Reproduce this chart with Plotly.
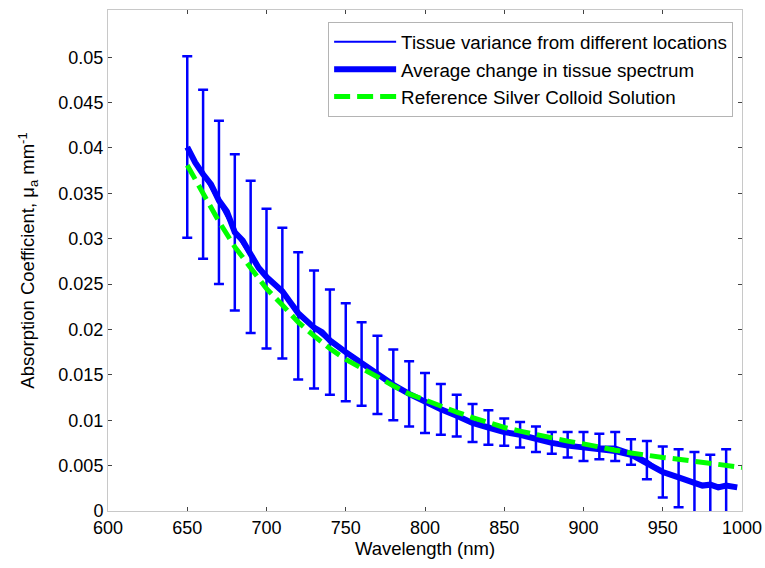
import plotly.graph_objects as go

# Error-bar series (tissue variance from different locations)
eb_wl = [650, 660, 670, 680, 690, 700, 710, 720, 730, 740, 750, 760, 770, 780, 790,
         800, 810, 820, 830, 840, 850, 860, 870, 880, 890, 900, 910, 920, 930, 940,
         950, 960, 970, 980, 990]
eb_mean = [0.0401, 0.0371, 0.0340, 0.0307, 0.0280, 0.0256, 0.0240, 0.0215, 0.0200, 0.0186,
           0.0175, 0.0162, 0.0150, 0.0139, 0.0129, 0.0119, 0.0112, 0.0105, 0.0097, 0.0092,
           0.0087, 0.0084, 0.0079, 0.0075, 0.0073, 0.0071, 0.0071, 0.0071, 0.0065, 0.0056,
           0.0043, 0.0036, 0.0031, 0.0029, 0.0028]
eb_err = [0.0100, 0.0093, 0.0090, 0.0086, 0.0084, 0.0077, 0.0072, 0.0070, 0.0065, 0.0058,
          0.0054, 0.0046, 0.0043, 0.0039, 0.0036, 0.0033, 0.0028, 0.0023, 0.0021, 0.0019,
          0.0015, 0.0014, 0.0014, 0.0012, 0.0014, 0.0016, 0.0014, 0.0016, 0.0014, 0.0021,
          0.0028, 0.0032, 0.0034, 0.0033, 0.0040]

# Average change in tissue spectrum
avg_wl = [650, 655, 660, 665, 670, 675, 680, 685, 690, 695, 700, 705, 710, 715, 720, 725,
          730, 735, 740, 750, 760, 770, 780, 790, 800, 810, 820, 830, 840, 850, 860, 870,
          880, 890, 900, 910, 920, 930, 940, 950, 960, 970, 975, 980, 985, 990, 997]
avg_val = [0.0401, 0.0384, 0.0371, 0.0360, 0.0342, 0.0330, 0.0307, 0.0298, 0.0283, 0.0268,
           0.0258, 0.0250, 0.0242, 0.0230, 0.0218, 0.0210, 0.0202, 0.0197, 0.0188, 0.0175,
           0.0163, 0.0150, 0.0139, 0.0129, 0.0120, 0.0112, 0.0105, 0.0097, 0.0092, 0.0087,
           0.0084, 0.0079, 0.0075, 0.0072, 0.0070, 0.0068, 0.0066, 0.0062, 0.0052, 0.0043,
           0.0037, 0.0031, 0.0028, 0.0029, 0.0026, 0.0028, 0.0026]

# Reference silver colloid solution
ref_wl = [650, 660, 670, 680, 690, 700, 710, 720, 730, 740, 750, 760, 770, 780, 790, 800,
          810, 820, 830, 840, 850, 860, 870, 880, 890, 900, 910, 920, 930, 940, 950, 960,
          970, 980, 990, 1000]
ref_val = [0.0381, 0.0349, 0.0319, 0.0291, 0.0267, 0.0245, 0.0227, 0.0208, 0.0193, 0.0179,
           0.0167, 0.0157, 0.0147, 0.0138, 0.0129, 0.0122, 0.0116, 0.0109, 0.0103, 0.0097,
           0.0092, 0.0088, 0.0084, 0.0080, 0.0077, 0.0074, 0.0070, 0.0067, 0.0064, 0.0061,
           0.0059, 0.0057, 0.0055, 0.0053, 0.0050, 0.0048]

y_ticks = [0, 0.005, 0.01, 0.015, 0.02, 0.025, 0.03, 0.035, 0.04, 0.045, 0.05]
y_tick_text = ["0", "0.005", "0.01", "0.015", "0.02", "0.025", "0.03", "0.035", "0.04", "0.045", "0.05"]
x_ticks = [600, 650, 700, 750, 800, 850, 900, 950, 1000]

BLUE = "#0000FF"
GREEN = "#00FF00"
FONT = "Liberation Sans, Arial, sans-serif"

fig = go.Figure()
fig.add_trace(go.Scatter(
    x=eb_wl, y=eb_mean, mode="lines",
    name="Tissue variance from different locations",
    line=dict(color=BLUE, width=2),
    error_y=dict(type="data", array=eb_err, visible=True, color=BLUE, thickness=2.5, width=5),
    legendgroup="a",
))
fig.add_trace(go.Scatter(
    x=avg_wl, y=avg_val, mode="lines",
    name="Average change in tissue spectrum",
    line=dict(color=BLUE, width=6),
    legendgroup="b",
))
fig.add_trace(go.Scatter(
    x=ref_wl, y=ref_val, mode="lines",
    name="Reference Silver Colloid Solution",
    line=dict(color=GREEN, width=5, dash="16px,7px"),
    legendgroup="c",
))

axis_common = dict(
    showline=True, linecolor="#c8c8c8", linewidth=1, mirror="ticks",
    ticks="inside", ticklen=4, tickcolor="#444444", tickwidth=1,
    showgrid=False, zeroline=False, automargin=False,
    tickfont=dict(family=FONT, size=18, color="#000000"),
)

fig.update_layout(
    width=765, height=568,
    margin=dict(l=108, r=23, t=10, b=57),
    paper_bgcolor="white", plot_bgcolor="white",
    font=dict(family=FONT, size=18, color="#000000"),
    xaxis=dict(range=[600, 1000], tickvals=x_ticks,
               title=dict(text="Wavelength (nm)", font=dict(family=FONT, size=18.5), standoff=2),
               **axis_common),
    yaxis=dict(range=[0, 0.0552], tickvals=y_ticks, ticktext=y_tick_text,
               title=dict(text="Absorption Coefficient, μ<sub>a</sub> mm<sup>-1</sup>",
                          font=dict(family=FONT, size=18.5), standoff=18),
               **axis_common),
    legend=dict(x=0.986, y=0.976, xanchor="right", yanchor="top",
                bgcolor="white", bordercolor="#b4b4b4", borderwidth=1,
                font=dict(family=FONT, size=18.8, color="#000000"),
                tracegroupgap=0, itemwidth=62),
    showlegend=True,
)

fig.write_html("out.html", config={"displayModeBar": False},
               post_script="document.body.style.margin='0';document.body.style.overflow='hidden';")
